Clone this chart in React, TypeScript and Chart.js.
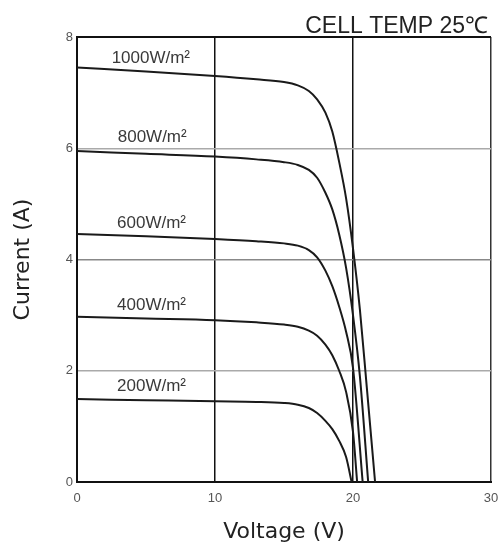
import React, { useEffect, useRef } from "react";
import { Chart, registerables } from "chart.js";

Chart.register(...registerables);

// Irradiance curves (voltage V, current A)
const v1000 = [0, 5, 10, 13, 15, 16, 16.8, 17.4, 18, 18.5, 19, 19.5, 20, 20.5, 21, 21.6];
const i1000 = [7.45, 7.38, 7.3, 7.24, 7.19, 7.13, 7.03, 6.88, 6.64, 6.3, 5.75, 5.1, 4.2, 3.1, 1.7, 0];

const v800 = [0, 5, 10, 13, 15, 16, 16.8, 17.4, 18, 18.5, 19, 19.5, 20, 20.5, 21.1];
const i800 = [5.95, 5.9, 5.85, 5.8, 5.75, 5.7, 5.61, 5.47, 5.2, 4.9, 4.45, 3.85, 3.0, 1.9, 0];

const v600 = [0, 5, 10, 13, 15, 16, 16.8, 17.4, 18, 18.5, 19, 19.5, 20, 20.7];
const i600 = [4.46, 4.42, 4.37, 4.33, 4.29, 4.25, 4.17, 4.04, 3.8, 3.52, 3.15, 2.7, 2.05, 0];

const v400 = [0, 5, 10, 13, 15, 16, 16.8, 17.4, 18, 18.5, 19, 19.5, 20, 20.3];
const i400 = [2.97, 2.94, 2.91, 2.87, 2.83, 2.79, 2.72, 2.63, 2.47, 2.28, 2.0, 1.62, 0.9, 0];

const v200 = [0, 5, 10, 13, 15, 16, 16.8, 17.4, 18, 18.5, 19, 19.5, 19.9];
const i200 = [1.49, 1.47, 1.45, 1.44, 1.42, 1.39, 1.33, 1.24, 1.1, 0.95, 0.74, 0.45, 0];

const seriesNames = ["1000W/m²", "800W/m²", "600W/m²", "400W/m²", "200W/m²"];
const seriesV = [v1000, v800, v600, v400, v200];
const seriesI = [i1000, i800, i600, i400, i200];

// curve label anchors (data coordinates)
const labelV = [5.35, 5.45, 5.4, 5.4, 5.4];
const labelI = [7.62, 6.2, 4.65, 3.18, 1.72];

const headerText = "CELL TEMP 25℃";
const xTitle = "Voltage (V)";
const yTitle = "Current (A)";

const curveLabelsPlugin = {
  id: "curveLabels",
  afterDraw(chart: any) {
    const { ctx, chartArea } = chart;
    const x = chart.scales.x;
    const y = chart.scales.y;
    ctx.save();
    ctx.font = '17px "Liberation Sans"';
    ctx.fillStyle = "#3a3a3a";
    ctx.textAlign = "center";
    ctx.textBaseline = "middle";
    seriesNames.forEach((t, i) => {
      ctx.fillText(t, x.getPixelForValue(labelV[i]), y.getPixelForValue(labelI[i]));
    });
    ctx.font = '23px "Liberation Sans"';
    ctx.fillStyle = "#222";
    ctx.textAlign = "right";
    ctx.textBaseline = "alphabetic";
    ctx.fillText(headerText, chartArea.right - 3, chartArea.top - 4);
    ctx.restore();
  },
};

export default function App() {
  const ref = useRef<HTMLCanvasElement | null>(null);

  useEffect(() => {
    if (!ref.current) return;
    const datasets = seriesNames.map((name, s) => ({
      label: name,
      data: seriesV[s].map((v, k) => ({ x: v, y: seriesI[s][k] })),
      borderColor: "#1a1a1a",
      borderWidth: 2,
      pointRadius: 0,
      fill: false,
      cubicInterpolationMode: "monotone" as const,
    }));
    const chart = new Chart(ref.current, {
      type: "line",
      data: { datasets },
      plugins: [curveLabelsPlugin],
      options: {
        animation: false,
        responsive: false,
        devicePixelRatio: 1,
        layout: { padding: { left: 0, right: 8, top: 37, bottom: 0 } },
        plugins: { legend: { display: false }, tooltip: { enabled: false } },
        scales: {
          x: {
            type: "linear",
            min: 0,
            max: 30,
            afterFit(scale: any) {
              scale.height = 63;
              scale.paddingRight = 0;
              scale.paddingLeft = 0;
            },
            ticks: {
              stepSize: 10,
              padding: 9,
              color: "#555",
              font: { family: "Liberation Sans", size: 13 },
            },
            grid: {
              drawTicks: false,
              color: (ctx: any) => (ctx.tick && ctx.tick.value === 30 ? "#333" : "#111"),
              lineWidth: (ctx: any) => (ctx.tick && ctx.tick.value === 0 ? 2 : 1.5),
            },
            border: { display: true, color: "#111", width: 2 },
            title: {
              display: true,
              text: xTitle,
              color: "#222",
              font: { family: "DejaVu Sans", size: 22 },
              padding: { top: 0, bottom: 0 },
            },
          },
          y: {
            type: "linear",
            min: 0,
            max: 8,
            afterFit(scale: any) {
              scale.width = 77;
              scale.paddingTop = 0;
              scale.paddingBottom = 0;
            },
            ticks: {
              stepSize: 2,
              padding: 4,
              color: "#555",
              font: { family: "Liberation Sans", size: 13 },
            },
            grid: {
              drawTicks: false,
              color: (ctx: any) => {
                const v = ctx.tick ? ctx.tick.value : -1;
                if (v === 0 || v === 8) return "#111";
                if (v === 4) return "#888";
                return "#aaa";
              },
              lineWidth: (ctx: any) => {
                const v = ctx.tick ? ctx.tick.value : -1;
                return v === 0 || v === 8 ? 2 : 1.5;
              },
            },
            border: { display: true, color: "#111", width: 2 },
            title: {
              display: true,
              text: yTitle,
              color: "#222",
              font: { family: "DejaVu Sans", size: 22 },
              padding: { top: 10, bottom: 0 },
            },
          },
        },
      },
    });
    return () => chart.destroy();
  }, []);

  return (
    <div style={{ position: "fixed", left: 0, top: 0, width: 499, height: 545, background: "#fff" }}>
      <canvas ref={ref} width={499} height={545} />
    </div>
  );
}
